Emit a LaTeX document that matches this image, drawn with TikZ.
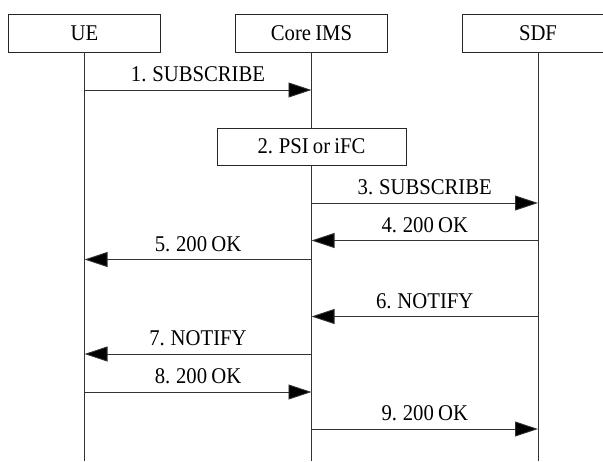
\documentclass[tikz,border=0pt]{standalone}
\usepackage{fontspec}
\setmainfont{Liberation Serif}[FakeStretch=0.92,WordSpace=0.8]
\usetikzlibrary{arrows.meta}
\begin{document}
\begin{tikzpicture}[x=1pt,y=-1pt,
  font=\fontsize{22.5}{26}\selectfont,
  actor/.style={draw=black!85,line width=0.9pt,minimum width=151.5pt,minimum height=38pt,inner sep=0pt},
  lifeline/.style={draw=black!80,line width=0.9pt},
  msg/.style={draw=black!80,line width=0.9pt,-{Triangle[length=23pt,width=15pt,fill=black]}},
  lbl/.style={anchor=base,inner sep=0pt}]
\useasboundingbox (0,0) rectangle (603,461);
\node[actor] (ue) at (84.5,33) {UE};
\node[actor] (core) at (311.5,33) {Core IMS};
\node[actor] (sdf) at (538,33) {SDF};
\coordinate (ueEnd) at (84.5,461);
\coordinate (coreEnd) at (311.5,461);
\coordinate (sdfEnd) at (538,461);
\draw[lifeline] (ue.south) -- (ueEnd);
\draw[lifeline] (core.south) -- (coreEnd);
\draw[lifeline] (sdf.south) -- (sdfEnd);
\node[actor,fill=white,minimum width=189pt,minimum height=37pt] (psi) at (311.5,146.5) {2. PSI or iFC};
% message rows
\coordinate (r1) at (0,90);
\coordinate (r3) at (0,203);
\coordinate (r4) at (0,240.5);
\coordinate (r5) at (0,259.5);
\coordinate (r6) at (0,316.5);
\coordinate (r7) at (0,354);
\coordinate (r8) at (0,392);
\coordinate (r9) at (0,429);
\draw[msg] (ue |- r1) -- node[lbl,above=7.5pt] (l1) {1. SUBSCRIBE} (core |- r1);
\draw[msg] (core |- r3) -- node[lbl,above=7.5pt] (l3) {3. SUBSCRIBE} (sdf |- r3);
\draw[msg] (sdf |- r4) -- node[lbl,above=7.5pt] (l4) {4. 200 OK} (core |- r4);
\draw[msg] (core |- r5) -- node[lbl,above=7.5pt] (l5) {5. 200 OK} (ue |- r5);
\draw[msg] (sdf |- r6) -- node[lbl,above=7.5pt] (l6) {6. NOTIFY} (core |- r6);
\draw[msg] (core |- r7) -- node[lbl,above=7.5pt] (l7) {7. NOTIFY} (ue |- r7);
\draw[msg] (ue |- r8) -- node[lbl,above=7.5pt] (l8) {8. 200 OK} (core |- r8);
\draw[msg] (core |- r9) -- node[lbl,above=7.5pt] (l9) {9. 200 OK} (sdf |- r9);
\end{tikzpicture}
\end{document}
